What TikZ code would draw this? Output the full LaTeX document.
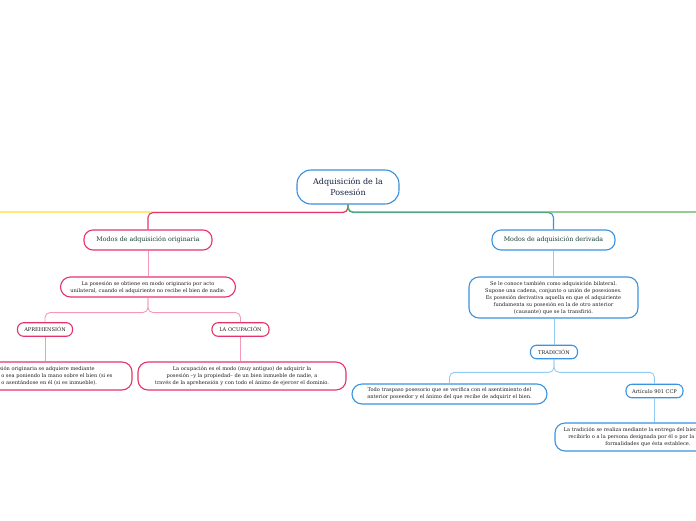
\documentclass[tikz,border=0pt]{standalone}
\usepackage{fontspec}
\setmainfont{DejaVu Serif}
\usetikzlibrary{positioning}
\definecolor{rootcol}{HTML}{3A8EDB}
\definecolor{origcol}{HTML}{E5336A}
\definecolor{origlight}{HTML}{F49AB8}
\definecolor{derivcol}{HTML}{3A92E0}
\definecolor{derivlight}{HTML}{92CBF3}
\definecolor{yellowcol}{HTML}{FFDD33}
\definecolor{greencol}{HTML}{5BB15B}
\definecolor{navycol}{HTML}{14213F}
\definecolor{headcol}{HTML}{163F30}
\definecolor{bodycol}{HTML}{1E1E1E}

\begin{document}
\begin{tikzpicture}[
  x=1pt, y=-1pt,
  font=\fontsize{5.1}{7}\selectfont,
  root/.style={
    draw=rootcol, fill=white, line width=1.1pt, text=navycol,
    rounded corners=14pt, minimum height=34pt, minimum width=102pt, align=center,
    font=\fontsize{8}{11.5}\selectfont,
  },
  head/.style={
    fill=white, line width=1.1pt, text=headcol,
    rounded corners=9pt, minimum height=20pt, align=center,
    font=\fontsize{6.3}{8}\selectfont,
  },
  leaf/.style={
    fill=white, line width=1.1pt, text=bodycol,
    rounded corners=10pt, inner xsep=4pt, align=center,
  },
  tag/.style={
    fill=white, line width=1.1pt, text=bodycol,
    rounded corners=6pt, minimum height=13.5pt, inner xsep=3pt, align=center,
  },
  mainline/.style={line width=1.1pt, rounded corners=5pt},
  subline/.style={line width=0.9pt, rounded corners=5pt},
]
\useasboundingbox (0,0) rectangle (696,520);
\clip (0,0) rectangle (696,520);

% Root
\node[root] (title) at (348,187) {Adquisición de la\\Posesión};
\coordinate (leftend) at (0,212);
\coordinate (rightend) at (696,212);

% Left branch: originaria
\node[head, draw=origcol, minimum width=128pt] (orig) at (148,240) {Modos de adquisición originaria};
\node[leaf, draw=origcol, minimum width=175pt, minimum height=20pt] (origtxt) at (148,287)
  {La posesión se obtiene en modo originario por acto\\unilateral, cuando el adquiriente no recibe el bien de nadie.};
\node[tag, draw=origcol, minimum width=55pt] (apre) at (45,329.5) {APREHENSIÓN};
\node[tag, draw=origcol, minimum width=57pt] (ocup) at (240.5,329.5) {LA OCUPACIÓN};
\node[leaf, draw=origcol, minimum width=190pt, minimum height=28pt] (apretxt) at (37,376)
  {La posesión originaria se adquiere mediante\\la aprehensión o sea poniendo la mano sobre el bien (si es\\mueble); o asentándose en él (si es inmueble).};
\node[leaf, draw=origcol, minimum width=208pt, minimum height=28pt] (ocuptxt) at (242,376)
  {La ocupación es el modo (muy antiguo) de adquirir la\\posesión --y la propiedad-- de un bien inmueble de nadie, a\\través de la aprehensión y con todo el ánimo de ejercer el dominio.};

% Right branch: derivada
\node[head, draw=derivcol, minimum width=123pt] (deriv) at (553.5,240) {Modos de adquisición derivada};
\node[leaf, draw=derivcol, minimum width=169pt, minimum height=41pt] (derivtxt) at (553.5,297.5)
  {Se le conoce también como adquisición bilateral.\\Supone una cadena, conjunto o unión de posesiones.\\Es posesión derivativa aquella en que el adquiriente\\fundamenta su posesión en la de otro anterior\\(causante) que se la transfirió.};
\node[tag, draw=derivcol, minimum width=47pt] (trad) at (554,352) {TRADICIÓN};
\node[leaf, draw=derivcol, minimum width=195pt, minimum height=20pt] (tradtxt) at (449.5,394)
  {Todo traspaso posesorio que se verifica con el asentimiento del\\anterior poseedor y el ánimo del que recibe de adquirir el bien.};
\node[tag, draw=derivcol, minimum width=57pt] (art) at (654.5,391) {Artículo 901 CCP};
\node[leaf, draw=derivcol, minimum width=186pt, minimum height=28pt] (arttxt) at (648,437)
  {La tradición se realiza mediante la entrega del bien a quien debe\\recibirlo o a la persona designada por él o por la ley y con las\\formalidades que ésta establece.};

% Top lines
\draw[mainline, yellowcol] (title.south) |- (leftend);
\draw[mainline, origcol] (title.south) -- ++(0,8) -| (orig.north);
\draw[mainline, derivcol] (title.south) -- ++(0,8) -| (deriv.north);
\draw[mainline, greencol] (title.south) |- (rightend);

% Connectors, left
\draw[subline, origlight] (orig) -- (origtxt);
\draw[subline, origlight] (origtxt.south) -- ++(0,15) -| (apre.north);
\draw[subline, origlight] (origtxt.south) -- ++(0,15) -| (ocup.north);
\draw[subline, origlight] (apre) -- (apre |- apretxt.north);
\draw[subline, origlight] (ocup) -- (ocup |- ocuptxt.north);

% Connectors, right
\draw[subline, derivlight] (deriv) -- (derivtxt);
\draw[subline, derivlight] (derivtxt.south -| trad) -- (trad.north);
\draw[subline, derivlight] (trad.south) -- ++(0,13) -| (tradtxt.north);
\draw[subline, derivlight] (trad.south) -- ++(0,13) -| (art.north);
\draw[subline, derivlight] (art.south) -- (art |- arttxt.north);
\end{tikzpicture}
\end{document}
